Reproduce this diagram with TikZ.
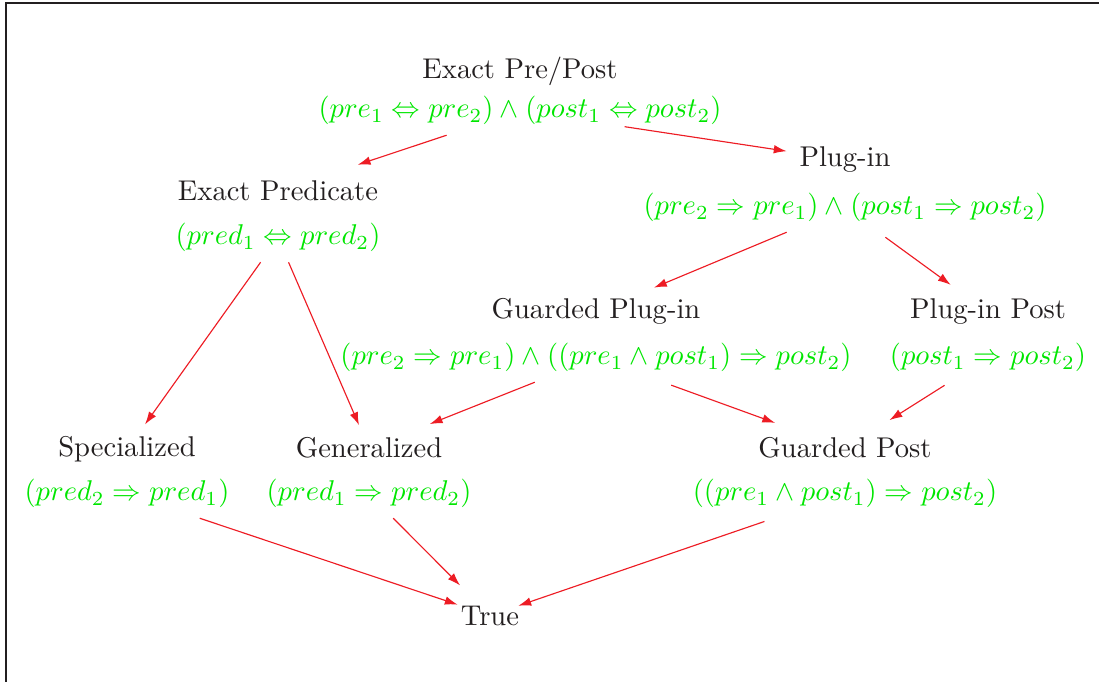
\documentclass[tikz,border=0pt]{standalone}
\usetikzlibrary{arrows.meta}
\definecolor{ink}{RGB}{35,31,32}
\definecolor{formulagreen}{RGB}{0,230,0}
\definecolor{arrowred}{RGB}{237,28,36}
\tikzset{
  title/.style={anchor=base,text=ink},
  formula/.style={anchor=base,text=formulagreen},
  implies/.style={draw=arrowred,line width=0.4pt,-{Latex[length=4.5pt,width=3pt]},shorten >=1pt}
}
\begin{document}
\begin{tikzpicture}[x=0.35pt,y=-0.35pt]
        \useasboundingbox (0,0) rectangle (1099,682);
        \draw[ink,line width=0.7pt] (6,682) -- (6,3) -- (1099,3);
        \node[title] (epp) at (520,79) {Exact Pre/Post};
        \node[formula] (eppF) at (520,118) {$(pre_1 \Leftrightarrow pre_2) \wedge (post_1 \Leftrightarrow post_2)$};
        \node[title] (plugin) at (845,167) {Plug-in};
        \node[formula] (pluginF) at (845,215) {$(pre_2 \Rightarrow pre_1) \wedge (post_1 \Rightarrow post_2)$};
        \node[title] (exactpred) at (278,201) {Exact Predicate};
        \node[formula] (exactpredF) at (278,245) {$(pred_1 \Leftrightarrow pred_2)$};
        \node[title] (gplugin) at (596,319) {Guarded Plug-in};
        \node[formula] (gpluginF) at (596,365) {$(pre_2 \Rightarrow pre_1) \wedge ((pre_1 \wedge post_1) \Rightarrow post_2)$};
        \node[title] (pluginpost) at (988,319) {Plug-in Post};
        \node[formula] (pluginpostF) at (988,365) {$(post_1 \Rightarrow post_2)$};
        \node[title] (spec) at (127,457) {Specialized};
        \node[formula] (specF) at (127,501) {$(pred_2 \Rightarrow pred_1)$};
        \node[title] (gen) at (369,458) {Generalized};
        \node[formula] (genF) at (369,501) {$(pred_1 \Rightarrow pred_2)$};
        \node[title] (gpost) at (845,458) {Guarded Post};
        \node[formula] (gpostF) at (845,501) {$((pre_1 \wedge post_1) \Rightarrow post_2)$};
        \node[title] (true) at (490,625) {True};
        \draw[implies,shorten >=7pt] (eppF) -- (exactpred);
        \draw[implies,shorten <=-20pt] (eppF) -- (plugin);
        \draw[implies] (exactpredF) -- (spec);
        \draw[implies] (exactpredF) -- (gen);
        \draw[implies] (pluginF) -- (gplugin);
        \draw[implies,shorten <=3pt,shorten >=2.5pt] (pluginF) -- (pluginpost);
        \draw[implies,shorten >=3.5pt] (gpluginF) -- (gen);
        \draw[implies,shorten <=3pt,shorten >=5pt] (gpluginF) -- (gpost);
        \draw[implies,shorten <=2pt,shorten >=5pt] (pluginpostF) -- (gpost);
        \draw[implies,shorten >=-2.5pt] (specF) -- (true);
        \draw[implies,shorten >=5pt] (genF) -- (true);
        \draw[implies,shorten <=3.5pt,shorten >=-4pt] (gpostF) -- (true);
    \end{tikzpicture}
\end{document}
